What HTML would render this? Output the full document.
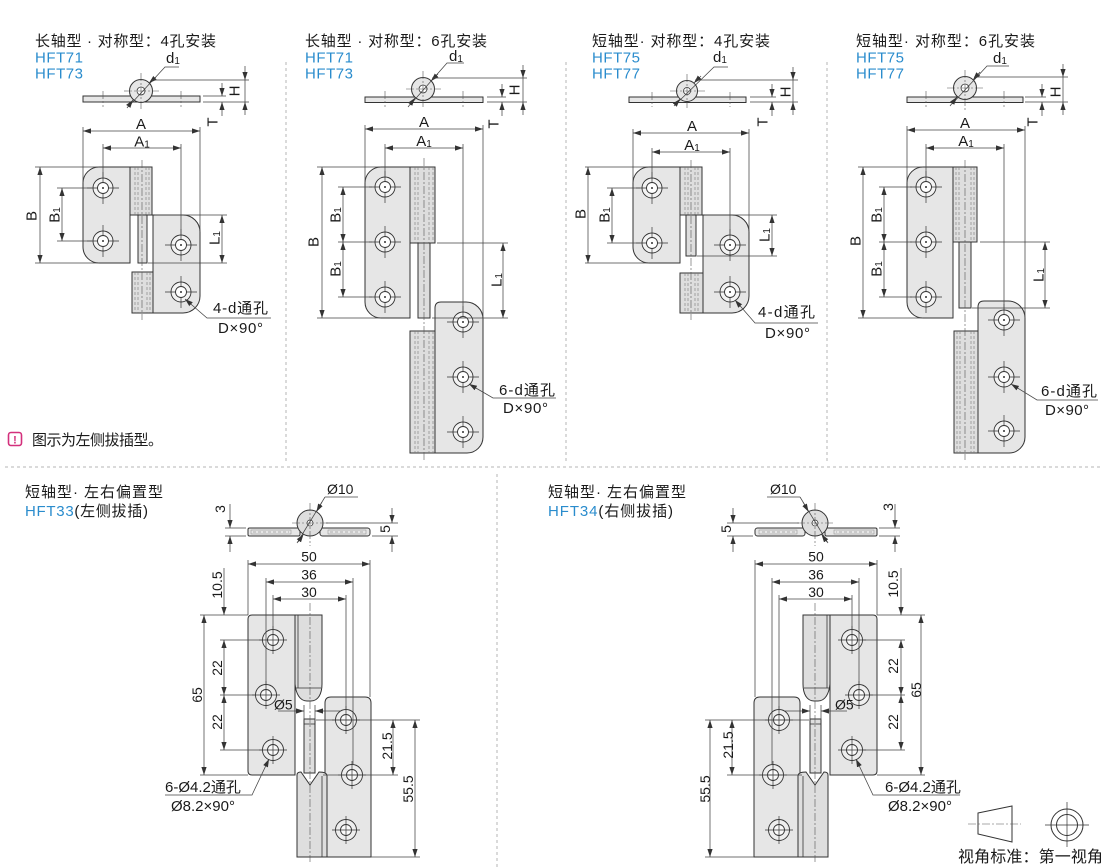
<!DOCTYPE html>
<html><head><meta charset="utf-8">
<style>
html,body{margin:0;padding:0;background:#fff;}
svg{display:block}
.ol{fill:#e6e6e6;stroke:#333;stroke-width:1}
.kn{fill:#dedede;stroke:#333;stroke-width:1}
.dl{fill:none;stroke:#444;stroke-width:.75}
.me{marker-end:url(#ar)}
.dm{marker-start:url(#ar);marker-end:url(#ar)}
.ms{marker-start:url(#ar)}
.cl{fill:none;stroke:#555;stroke-width:.6;stroke-dasharray:8 2 2 2}
.hd{fill:none;stroke:#777;stroke-width:.6;stroke-dasharray:3 2}
.sep{fill:none;stroke:#b5b5b5;stroke-width:1;stroke-dasharray:3 3}
.t{font-family:"Liberation Sans","Noto Sans CJK SC",sans-serif;fill:#1a1a1a}
.f14{font-size:14px}
.f15{font-size:15px}
.f16{font-size:16px}
.bl{fill:#2a8ccd}
</style></head>
<body>
<svg width="1110" height="867" viewBox="0 0 1110 867" xmlns="http://www.w3.org/2000/svg">
<defs>
<marker id="ar" viewBox="0 0 8 6" refX="8" refY="3" markerWidth="8" markerHeight="6" markerUnits="userSpaceOnUse" orient="auto-start-reverse"><path d="M0,0.4 L8,3 L0,5.6 z" fill="#333"/></marker>
<g id="hA">
<circle r="10" fill="#f3f3f3" stroke="#333" stroke-width=".9"/>
<path d="M-16,0H16M0,-16V16" stroke="#333" stroke-width=".7"/>
<circle r="5.5" fill="#fff" stroke="#333" stroke-width=".9"/>
<circle r="1" fill="#333"/>
</g>
<g id="hB">
<circle r="10.5" fill="#eeeeee" stroke="#333" stroke-width=".9"/>
<circle r="5.5" fill="#fafafa" stroke="#333" stroke-width=".9"/>
<path d="M-14,0H14M0,-14V14" stroke="#333" stroke-width=".7"/>
</g>

<!-- bottom drawing (HFT33), mirrored for HFT34 -->
<g id="bd">
<rect x="248" y="528" width="52" height="8" rx="1.5" class="ol"/>
<rect x="320" y="528" width="50" height="8" rx="2.5" class="ol"/>
<rect x="251" y="530" width="40" height="4" fill="none" stroke="#888" stroke-width=".5"/>
<rect x="328" y="530" width="38" height="4" fill="none" stroke="#888" stroke-width=".5"/>
<path d="M253,532H289M330,532H364" class="hd"/>
<circle cx="310" cy="523" r="13" class="kn"/>
<circle cx="310" cy="523" r="3" fill="#fff" stroke="#333" stroke-width=".7"/>
<line x1="310" y1="503" x2="310" y2="546" class="cl"/>
<line x1="292" y1="523" x2="330" y2="523" class="cl"/>
<line x1="325" y1="497" x2="297" y2="543" class="dl"/>
<line x1="325" y1="497" x2="358" y2="497" class="dl"/>
<line x1="322" y1="502" x2="316.5" y2="511.7" class="dl me"/>
<line x1="298" y1="542" x2="303.5" y2="534.3" class="dl me"/>
<path d="M225,528H246M225,536H246M326,523H398M372,536H398" class="dl"/>
<line x1="230" y1="504" x2="230" y2="528" class="dl me"/>
<line x1="230" y1="552" x2="230" y2="536" class="dl me"/>
<line x1="392" y1="508" x2="392" y2="523" class="dl me"/>
<line x1="392" y1="552" x2="392" y2="536" class="dl me"/>

<path d="M252,615H295V775H252Q248,775 248,771V619Q248,615 252,615Z" class="ol"/>
<path d="M295,615H322V684C322,694 318,701 311,701H307C300,701 296,694 295,684Z" class="kn"/>
<path d="M298,615V688M296,688H321" fill="none" stroke="#333" stroke-width=".8"/>
<path d="M325,703Q325,697 331,697H365Q371,697 371,703V857H325Z" class="ol"/>
<rect x="304" y="719" width="11" height="54" class="kn"/>
<path d="M304,724H315" fill="none" stroke="#333" stroke-width=".8"/>
<path d="M297,775Q297,772 301,772L310,785L319,772Q327,772 327,776V857H297Z" class="kn"/>
<path d="M322,776V857" fill="none" stroke="#333" stroke-width=".8"/>
<line x1="310" y1="603" x2="310" y2="862" class="cl"/>
<use href="#hB" x="273" y="640"/>
<use href="#hB" x="266" y="695"/>
<use href="#hB" x="273" y="750"/>
<use href="#hB" x="346" y="720"/>
<use href="#hB" x="352" y="775"/>
<use href="#hB" x="346" y="830"/>

<path d="M248,560V615M370,560V697M266,578V684M353,578V765M273,595V630M346,595V710" class="dl"/>
<line x1="248" y1="564" x2="370" y2="564" class="dl dm"/>
<line x1="266" y1="582" x2="353" y2="582" class="dl dm"/>
<line x1="273" y1="599" x2="346" y2="599" class="dl dm"/>
<path d="M304,705V720M315,705V720" class="dl"/>
<line x1="278" y1="711" x2="304" y2="711" class="dl me"/>
<line x1="340" y1="711" x2="315" y2="711" class="dl me"/>
<path d="M200,615H248M220,640H262M220,695H255M220,750H262M200,775H248" class="dl"/>
<line x1="224" y1="568" x2="224" y2="615" class="dl me"/>
<line x1="224" y1="640" x2="224" y2="695" class="dl dm"/>
<line x1="224" y1="695" x2="224" y2="750" class="dl dm"/>
<line x1="204" y1="615" x2="204" y2="775" class="dl dm"/>
<path d="M316,720H420M323,775H398M371,857H420" class="dl"/>
<line x1="393" y1="720" x2="393" y2="775" class="dl dm"/>
<line x1="415" y1="720" x2="415" y2="857" class="dl dm"/>
<polyline points="269,759 252,795 165,795" class="dl ms"/>
</g>
</defs>

<!-- separators -->
<path d="M286,62V462M566,62V462M827,62V462" class="sep"/>
<line x1="5" y1="467" x2="1102" y2="467" class="sep"/>
<line x1="497" y1="474" x2="497" y2="867" class="sep"/>

<!-- ============ PANEL 1 ============ -->
<text x="35" y="46" class="t f15" textLength="181" lengthAdjust="spacing">长轴型 · 对称型：4孔安装</text>
<text x="35" y="62.5" class="t f15 bl" textLength="48" lengthAdjust="spacing">HFT71</text>
<text x="35" y="78.5" class="t f15 bl" textLength="48" lengthAdjust="spacing">HFT73</text>

<rect x="83" y="96" width="117" height="6" class="ol"/>
<line x1="103" y1="91" x2="103" y2="107" class="cl"/>
<line x1="181" y1="91" x2="181" y2="107" class="cl"/>
<circle cx="141" cy="91" r="11.5" class="ol"/>
<circle cx="141" cy="91" r="4" fill="#fff" stroke="#333" stroke-width=".8"/>
<line x1="141" y1="73" x2="141" y2="110" class="cl"/>
<line x1="124" y1="91" x2="159" y2="91" class="cl"/>
<polyline points="129,106 165,67 179,67" class="dl"/>
<line x1="156" y1="77" x2="149" y2="83" class="dl me"/>
<line x1="127" y1="108" x2="133" y2="100" class="dl me"/>
<text x="166" y="63" class="t f15">d<tspan font-size="10" dy="1">1</tspan></text>
<path d="M152,80H249M203,102H249M203,96H226" class="dl"/>
<line x1="245" y1="66" x2="245" y2="80" class="dl me"/>
<line x1="245" y1="80" x2="245" y2="102" class="dl"/>
<line x1="245" y1="115" x2="245" y2="102" class="dl me"/>
<line x1="222" y1="83" x2="222" y2="96" class="dl me"/>
<line x1="222" y1="116" x2="222" y2="102" class="dl me"/>
<text x="235" y="91" class="t f15" text-anchor="middle" dominant-baseline="central" transform="rotate(-90 235 91)">H</text>
<text x="213" y="122" class="t f15" text-anchor="middle" dominant-baseline="central" transform="rotate(-90 213 122)">T</text>

<path d="M99,167H130V263H99A16,16 0 0 1 83,247V183A16,16 0 0 1 99,167Z" class="ol"/>
<path d="M153,215H183A17,17 0 0 1 200,232V296A17,17 0 0 1 183,313H153Z" class="ol"/>
<rect x="130" y="167" width="22" height="48" class="kn"/>
<path d="M135,167V215M138,167V215M146,167V215M149,167V215" class="hd"/>
<rect x="138" y="215" width="9" height="48" class="kn"/>
<rect x="132" y="272" width="21" height="41" class="kn"/>
<path d="M135,272V313M138,272V313M147,272V313M150,272V313" class="hd"/>
<line x1="142" y1="160" x2="142" y2="320" class="cl"/>
<use href="#hA" x="103" y="188"/>
<use href="#hA" x="103" y="241"/>
<use href="#hA" x="181" y="245"/>
<use href="#hA" x="181" y="292"/>
<path d="M83,127V183M200,127V232M103,144V178M181,144V235" class="dl"/>
<line x1="83" y1="131" x2="200" y2="131" class="dl dm"/>
<line x1="103" y1="148" x2="181" y2="148" class="dl dm"/>
<text x="141" y="129" class="t f15" text-anchor="middle">A</text>
<text x="142" y="146.5" class="t f15" text-anchor="middle">A<tspan font-size="10" dy="1">1</tspan></text>
<path d="M35,167H99M35,263H99M57,188H92M57,241H92M155,215H227M148,263H227" class="dl"/>
<line x1="40" y1="167" x2="40" y2="263" class="dl dm"/>
<line x1="62" y1="188" x2="62" y2="241" class="dl dm"/>
<line x1="222" y1="215" x2="222" y2="263" class="dl dm"/>
<text x="32" y="216" class="t f15" text-anchor="middle" dominant-baseline="central" transform="rotate(-90 32 216)">B</text>
<text x="55" y="215" class="t f15" text-anchor="middle" dominant-baseline="central" transform="rotate(-90 55 215)">B<tspan font-size="10" dy="2">1</tspan></text>
<text x="215" y="238" class="t f15" text-anchor="middle" dominant-baseline="central" transform="rotate(-90 215 238)">L<tspan font-size="10" dy="2">1</tspan></text>
<polyline points="185,299 207,318 271,318" class="dl ms"/>
<text x="213" y="313" class="t f15" textLength="55" lengthAdjust="spacing">4-d通孔</text>
<text x="218" y="333" class="t f15" textLength="45" lengthAdjust="spacing">D×90°</text>

<!-- ============ PANEL 2 ============ -->
<text x="305" y="46" class="t f15" textLength="182" lengthAdjust="spacing">长轴型 · 对称型：6孔安装</text>
<text x="305" y="62.5" class="t f15 bl" textLength="48" lengthAdjust="spacing">HFT71</text>
<text x="305" y="78.5" class="t f15 bl" textLength="48" lengthAdjust="spacing">HFT73</text>

<rect x="365" y="97" width="118" height="5.5" class="ol"/>
<line x1="385" y1="91" x2="385" y2="107" class="cl"/>
<line x1="463" y1="91" x2="463" y2="107" class="cl"/>
<circle cx="423" cy="89" r="11.5" class="ol"/>
<circle cx="423" cy="89" r="4" fill="#fff" stroke="#333" stroke-width=".8"/>
<line x1="423" y1="71" x2="423" y2="108" class="cl"/>
<line x1="406" y1="89" x2="441" y2="89" class="cl"/>
<polyline points="410,105 447,63 464,63" class="dl"/>
<line x1="438" y1="74" x2="431" y2="81" class="dl me"/>
<line x1="408" y1="107" x2="415" y2="98" class="dl me"/>
<text x="449" y="61" class="t f15">d<tspan font-size="10" dy="1">1</tspan></text>
<path d="M432,78H527M487,102H527M487,97H506" class="dl"/>
<line x1="523" y1="65" x2="523" y2="78" class="dl me"/>
<line x1="523" y1="78" x2="523" y2="102" class="dl"/>
<line x1="523" y1="115" x2="523" y2="102" class="dl me"/>
<line x1="502" y1="84" x2="502" y2="97" class="dl me"/>
<line x1="502" y1="116" x2="502" y2="102" class="dl me"/>
<text x="515" y="90" class="t f15" text-anchor="middle" dominant-baseline="central" transform="rotate(-90 515 90)">H</text>
<text x="494" y="124" class="t f15" text-anchor="middle" dominant-baseline="central" transform="rotate(-90 494 124)">T</text>

<path d="M381,167H410V318H381A16,16 0 0 1 365,302V183A16,16 0 0 1 381,167Z" class="ol"/>
<path d="M435,331V308Q435,302 441,302H466A17,17 0 0 1 483,319V437A16,16 0 0 1 467,453H435Z" class="ol"/>
<rect x="410" y="167" width="25" height="76" class="kn"/>
<path d="M415,167V243M418,167V243M429,167V243M433,167V243" class="hd"/>
<rect x="418" y="243" width="12" height="75" class="kn"/>
<rect x="410" y="331" width="25" height="122" class="kn"/>
<path d="M415,331V453M418,331V453M429,331V453M433,331V453" class="hd"/>
<line x1="424" y1="158" x2="424" y2="460" class="cl"/>
<use href="#hA" x="385" y="187"/>
<use href="#hA" x="385" y="242"/>
<use href="#hA" x="385" y="297"/>
<use href="#hA" x="463" y="322"/>
<use href="#hA" x="463" y="377"/>
<use href="#hA" x="463" y="432"/>
<path d="M365,125V183M483,125V319M385,144V176M463,144V312" class="dl"/>
<line x1="365" y1="129" x2="483" y2="129" class="dl dm"/>
<line x1="385" y1="148" x2="463" y2="148" class="dl dm"/>
<text x="424" y="127" class="t f15" text-anchor="middle">A</text>
<text x="424" y="146" class="t f15" text-anchor="middle">A<tspan font-size="10" dy="1">1</tspan></text>
<path d="M317,167H381M317,318H381M338,187H372M338,242H372M338,297H372M437,243H508M432,318H508" class="dl"/>
<line x1="322" y1="167" x2="322" y2="318" class="dl dm"/>
<line x1="343" y1="187" x2="343" y2="242" class="dl dm"/>
<line x1="343" y1="242" x2="343" y2="297" class="dl dm"/>
<line x1="503" y1="243" x2="503" y2="318" class="dl dm"/>
<text x="314" y="242" class="t f15" text-anchor="middle" dominant-baseline="central" transform="rotate(-90 314 242)">B</text>
<text x="336" y="215" class="t f15" text-anchor="middle" dominant-baseline="central" transform="rotate(-90 336 215)">B<tspan font-size="10" dy="2">1</tspan></text>
<text x="336" y="269" class="t f15" text-anchor="middle" dominant-baseline="central" transform="rotate(-90 336 269)">B<tspan font-size="10" dy="2">1</tspan></text>
<text x="497" y="280" class="t f15" text-anchor="middle" dominant-baseline="central" transform="rotate(-90 497 280)">L<tspan font-size="10" dy="2">1</tspan></text>
<polyline points="469,384 493,398 556,398" class="dl ms"/>
<text x="499" y="395" class="t f15" textLength="56" lengthAdjust="spacing">6-d通孔</text>
<text x="503" y="413" class="t f15" textLength="45" lengthAdjust="spacing">D×90°</text>

<!-- ============ PANEL 3 ============ -->
<text x="592" y="46" class="t f15" textLength="178" lengthAdjust="spacing">短轴型· 对称型：4孔安装</text>
<text x="592" y="62.5" class="t f15 bl" textLength="48" lengthAdjust="spacing">HFT75</text>
<text x="592" y="78.5" class="t f15 bl" textLength="48" lengthAdjust="spacing">HFT77</text>

<rect x="629" y="97" width="117" height="5.5" class="ol"/>
<line x1="652" y1="92" x2="652" y2="107" class="cl"/>
<line x1="730" y1="92" x2="730" y2="107" class="cl"/>
<circle cx="687" cy="91" r="10.5" class="ol"/>
<circle cx="687" cy="91" r="3.5" fill="#fff" stroke="#333" stroke-width=".8"/>
<line x1="687" y1="74" x2="687" y2="108" class="cl"/>
<line x1="670" y1="91" x2="705" y2="91" class="cl"/>
<polyline points="676,104 714,67 728,67" class="dl"/>
<line x1="701" y1="76" x2="694" y2="83" class="dl me"/>
<line x1="674" y1="106" x2="680" y2="99" class="dl me"/>
<text x="713" y="62" class="t f15">d<tspan font-size="10" dy="1">1</tspan></text>
<path d="M695,80H798M750,102H798M750,97H776" class="dl"/>
<line x1="793" y1="67" x2="793" y2="80" class="dl me"/>
<line x1="793" y1="80" x2="793" y2="102" class="dl"/>
<line x1="793" y1="115" x2="793" y2="102" class="dl me"/>
<line x1="772" y1="84" x2="772" y2="97" class="dl me"/>
<line x1="772" y1="116" x2="772" y2="102" class="dl me"/>
<text x="786" y="92" class="t f15" text-anchor="middle" dominant-baseline="central" transform="rotate(-90 786 92)">H</text>
<text x="763" y="122" class="t f15" text-anchor="middle" dominant-baseline="central" transform="rotate(-90 763 122)">T</text>

<path d="M649,167H680V263H649A16,16 0 0 1 633,247V183A16,16 0 0 1 649,167Z" class="ol"/>
<path d="M703,215H732A17,17 0 0 1 749,232V296A17,17 0 0 1 732,313H703Z" class="ol"/>
<rect x="680" y="167" width="22" height="48" class="kn"/>
<path d="M685,167V215M688,167V215M695,167V215M698,167V215" class="hd"/>
<rect x="686" y="215" width="10" height="41" class="kn"/>
<rect x="680" y="273" width="23" height="40" class="kn"/>
<path d="M685,273V313M688,273V313M695,273V313M698,273V313" class="hd"/>
<line x1="691" y1="160" x2="691" y2="320" class="cl"/>
<use href="#hA" x="652" y="188"/>
<use href="#hA" x="652" y="243"/>
<use href="#hA" x="730" y="245"/>
<use href="#hA" x="730" y="292"/>
<path d="M633,129V183M749,129V232M652,148V178M730,148V235" class="dl"/>
<line x1="633" y1="133" x2="749" y2="133" class="dl dm"/>
<line x1="652" y1="152" x2="730" y2="152" class="dl dm"/>
<text x="692" y="131" class="t f15" text-anchor="middle">A</text>
<text x="692" y="150" class="t f15" text-anchor="middle">A<tspan font-size="10" dy="1">1</tspan></text>
<path d="M585,167H649M585,263H649M607,188H640M607,243H640M705,215H777M697,256H777" class="dl"/>
<line x1="588" y1="167" x2="588" y2="263" class="dl dm"/>
<line x1="612" y1="188" x2="612" y2="243" class="dl dm"/>
<line x1="772" y1="215" x2="772" y2="256" class="dl dm"/>
<text x="581" y="214" class="t f15" text-anchor="middle" dominant-baseline="central" transform="rotate(-90 581 214)">B</text>
<text x="605" y="215" class="t f15" text-anchor="middle" dominant-baseline="central" transform="rotate(-90 605 215)">B<tspan font-size="10" dy="2">1</tspan></text>
<text x="765" y="235" class="t f15" text-anchor="middle" dominant-baseline="central" transform="rotate(-90 765 235)">L<tspan font-size="10" dy="2">1</tspan></text>
<polyline points="735,300 755,323 818,323" class="dl ms"/>
<text x="758" y="317" class="t f15" textLength="57" lengthAdjust="spacing">4-d通孔</text>
<text x="765" y="338" class="t f15" textLength="45" lengthAdjust="spacing">D×90°</text>

<!-- ============ PANEL 4 ============ -->
<text x="856" y="46" class="t f15" textLength="179" lengthAdjust="spacing">短轴型· 对称型：6孔安装</text>
<text x="856" y="62.5" class="t f15 bl" textLength="48" lengthAdjust="spacing">HFT75</text>
<text x="856" y="78.5" class="t f15 bl" textLength="48" lengthAdjust="spacing">HFT77</text>

<rect x="907" y="97" width="116" height="5.5" class="ol"/>
<line x1="926" y1="91" x2="926" y2="107" class="cl"/>
<line x1="1004" y1="91" x2="1004" y2="107" class="cl"/>
<circle cx="965" cy="88" r="11.5" class="ol"/>
<circle cx="965" cy="88" r="4" fill="#fff" stroke="#333" stroke-width=".8"/>
<line x1="965" y1="70" x2="965" y2="110" class="cl"/>
<line x1="947" y1="88" x2="984" y2="88" class="cl"/>
<polyline points="952,104 987,66 1009,66" class="dl"/>
<line x1="980" y1="72" x2="973" y2="80" class="dl me"/>
<line x1="950" y1="106" x2="957" y2="97" class="dl me"/>
<text x="993" y="63" class="t f15">d<tspan font-size="10" dy="1">1</tspan></text>
<path d="M974,77H1068M1025,102H1068M1025,97H1046" class="dl"/>
<line x1="1063" y1="64" x2="1063" y2="77" class="dl me"/>
<line x1="1063" y1="77" x2="1063" y2="102" class="dl"/>
<line x1="1063" y1="115" x2="1063" y2="102" class="dl me"/>
<line x1="1042" y1="84" x2="1042" y2="97" class="dl me"/>
<line x1="1042" y1="116" x2="1042" y2="102" class="dl me"/>
<text x="1056" y="92" class="t f15" text-anchor="middle" dominant-baseline="central" transform="rotate(-90 1056 92)">H</text>
<text x="1033" y="122" class="t f15" text-anchor="middle" dominant-baseline="central" transform="rotate(-90 1033 122)">T</text>

<path d="M923,167H953V318H923A16,16 0 0 1 907,302V183A16,16 0 0 1 923,167Z" class="ol"/>
<path d="M978,331V307Q978,301 984,301H1008A17,17 0 0 1 1025,318V437A16,16 0 0 1 1009,453H978Z" class="ol"/>
<rect x="953" y="167" width="24" height="75" class="kn"/>
<path d="M956,167V242M959,167V242M971,167V242M974,167V242" class="hd"/>
<rect x="959" y="242" width="12" height="66" class="kn"/>
<rect x="954" y="331" width="24" height="122" class="kn"/>
<path d="M957,331V453M960,331V453M971,331V453M974,331V453" class="hd"/>
<line x1="965" y1="160" x2="965" y2="460" class="cl"/>
<use href="#hA" x="926" y="187"/>
<use href="#hA" x="926" y="242"/>
<use href="#hA" x="926" y="297"/>
<use href="#hA" x="1004" y="320"/>
<use href="#hA" x="1004" y="377"/>
<use href="#hA" x="1004" y="431"/>
<path d="M907,126V183M1025,126V318M926,144V176M1004,144V310" class="dl"/>
<line x1="907" y1="130" x2="1025" y2="130" class="dl dm"/>
<line x1="926" y1="148" x2="1004" y2="148" class="dl dm"/>
<text x="965" y="128" class="t f15" text-anchor="middle">A</text>
<text x="966" y="146" class="t f15" text-anchor="middle">A<tspan font-size="10" dy="1">1</tspan></text>
<path d="M858,167H923M858,318H923M879,187H912M879,242H912M879,297H912M980,242H1050M972,308H1050" class="dl"/>
<line x1="863" y1="167" x2="863" y2="318" class="dl dm"/>
<line x1="884" y1="187" x2="884" y2="242" class="dl dm"/>
<line x1="884" y1="242" x2="884" y2="297" class="dl dm"/>
<line x1="1045" y1="242" x2="1045" y2="308" class="dl dm"/>
<text x="856" y="241" class="t f15" text-anchor="middle" dominant-baseline="central" transform="rotate(-90 856 241)">B</text>
<text x="877" y="215" class="t f15" text-anchor="middle" dominant-baseline="central" transform="rotate(-90 877 215)">B<tspan font-size="10" dy="2">1</tspan></text>
<text x="877" y="269" class="t f15" text-anchor="middle" dominant-baseline="central" transform="rotate(-90 877 269)">B<tspan font-size="10" dy="2">1</tspan></text>
<text x="1039" y="275" class="t f15" text-anchor="middle" dominant-baseline="central" transform="rotate(-90 1039 275)">L<tspan font-size="10" dy="2">1</tspan></text>
<polyline points="1011,384 1037,400 1098,400" class="dl ms"/>
<text x="1041" y="396" class="t f15" textLength="56" lengthAdjust="spacing">6-d通孔</text>
<text x="1045" y="415" class="t f15" textLength="44" lengthAdjust="spacing">D×90°</text>

<!-- note -->
<rect x="8.5" y="432.5" width="13" height="13" rx="2.5" fill="none" stroke="#d3307c" stroke-width="1.6"/>
<text x="15" y="443.5" text-anchor="middle" font-family="Liberation Sans, sans-serif" font-weight="bold" font-size="11" fill="#d3307c">!</text>
<text x="32" y="445" class="t f15" textLength="131" lengthAdjust="spacing">图示为左侧拔插型。</text>

<!-- ============ BOTTOM LEFT ============ -->
<text x="25" y="497" class="t f15" textLength="138" lengthAdjust="spacing">短轴型· 左右偏置型</text>
<text x="25" y="516" class="t f15" textLength="123" lengthAdjust="spacing"><tspan class="bl">HFT33</tspan>(左侧拔插)</text>
<use href="#bd"/>
<text x="327" y="494" class="t f14">Ø10</text>
<text x="220" y="509" class="t f14" text-anchor="middle" dominant-baseline="central" transform="rotate(-90 220 509)">3</text>
<text x="385" y="529" class="t f14" text-anchor="middle" dominant-baseline="central" transform="rotate(-90 385 529)">5</text>
<text x="309" y="561.5" class="t f14" text-anchor="middle">50</text>
<text x="309" y="579.5" class="t f14" text-anchor="middle">36</text>
<text x="309" y="597" class="t f14" text-anchor="middle">30</text>
<text x="217" y="585" class="t f14" text-anchor="middle" dominant-baseline="central" transform="rotate(-90 217 585)">10.5</text>
<text x="217" y="668" class="t f14" text-anchor="middle" dominant-baseline="central" transform="rotate(-90 217 668)">22</text>
<text x="217" y="722" class="t f14" text-anchor="middle" dominant-baseline="central" transform="rotate(-90 217 722)">22</text>
<text x="197" y="695" class="t f14" text-anchor="middle" dominant-baseline="central" transform="rotate(-90 197 695)">65</text>
<text x="387" y="746" class="t f14" text-anchor="middle" dominant-baseline="central" transform="rotate(-90 387 746)">21.5</text>
<text x="408" y="789" class="t f14" text-anchor="middle" dominant-baseline="central" transform="rotate(-90 408 789)">55.5</text>
<text x="274" y="709.5" class="t f14">Ø5</text>
<text x="165" y="792" class="t f15">6-Ø4.2通孔</text>
<text x="171" y="811" class="t f15">Ø8.2×90°</text>

<!-- ============ BOTTOM RIGHT ============ -->
<text x="548" y="497" class="t f15" textLength="138" lengthAdjust="spacing">短轴型· 左右偏置型</text>
<text x="548" y="516" class="t f15" textLength="125" lengthAdjust="spacing"><tspan class="bl">HFT34</tspan>(右侧拔插)</text>
<use href="#bd" transform="translate(1125 0) scale(-1 1)"/>
<text x="770" y="494" class="t f14">Ø10</text>
<text x="726" y="529" class="t f14" text-anchor="middle" dominant-baseline="central" transform="rotate(-90 726 529)">5</text>
<text x="888" y="507" class="t f14" text-anchor="middle" dominant-baseline="central" transform="rotate(-90 888 507)">3</text>
<text x="816" y="561.5" class="t f14" text-anchor="middle">50</text>
<text x="816" y="579.5" class="t f14" text-anchor="middle">36</text>
<text x="816" y="597" class="t f14" text-anchor="middle">30</text>
<text x="893" y="584" class="t f14" text-anchor="middle" dominant-baseline="central" transform="rotate(-90 893 584)">10.5</text>
<text x="893" y="666" class="t f14" text-anchor="middle" dominant-baseline="central" transform="rotate(-90 893 666)">22</text>
<text x="893" y="722" class="t f14" text-anchor="middle" dominant-baseline="central" transform="rotate(-90 893 722)">22</text>
<text x="916" y="690" class="t f14" text-anchor="middle" dominant-baseline="central" transform="rotate(-90 916 690)">65</text>
<text x="728" y="745" class="t f14" text-anchor="middle" dominant-baseline="central" transform="rotate(-90 728 745)">21.5</text>
<text x="705" y="789" class="t f14" text-anchor="middle" dominant-baseline="central" transform="rotate(-90 705 789)">55.5</text>
<text x="835" y="709.5" class="t f14">Ø5</text>
<text x="885" y="792" class="t f15">6-Ø4.2通孔</text>
<text x="888" y="811" class="t f15">Ø8.2×90°</text>

<!-- view standard icon -->
<polygon points="978,813 1012,806 1012,842 978,834" fill="none" stroke="#333" stroke-width="1"/>
<line x1="968" y1="824" x2="1021" y2="824" class="cl"/>
<circle cx="1067" cy="825" r="16" fill="none" stroke="#333" stroke-width="1"/>
<circle cx="1067" cy="825" r="10.5" fill="none" stroke="#333" stroke-width="1"/>
<path d="M1045,825H1089M1067,802V847" stroke="#333" stroke-width=".7"/>
<text x="958" y="862" class="t f16" textLength="145" lengthAdjust="spacing">视角标准：第一视角</text>
</svg>
</body></html>
